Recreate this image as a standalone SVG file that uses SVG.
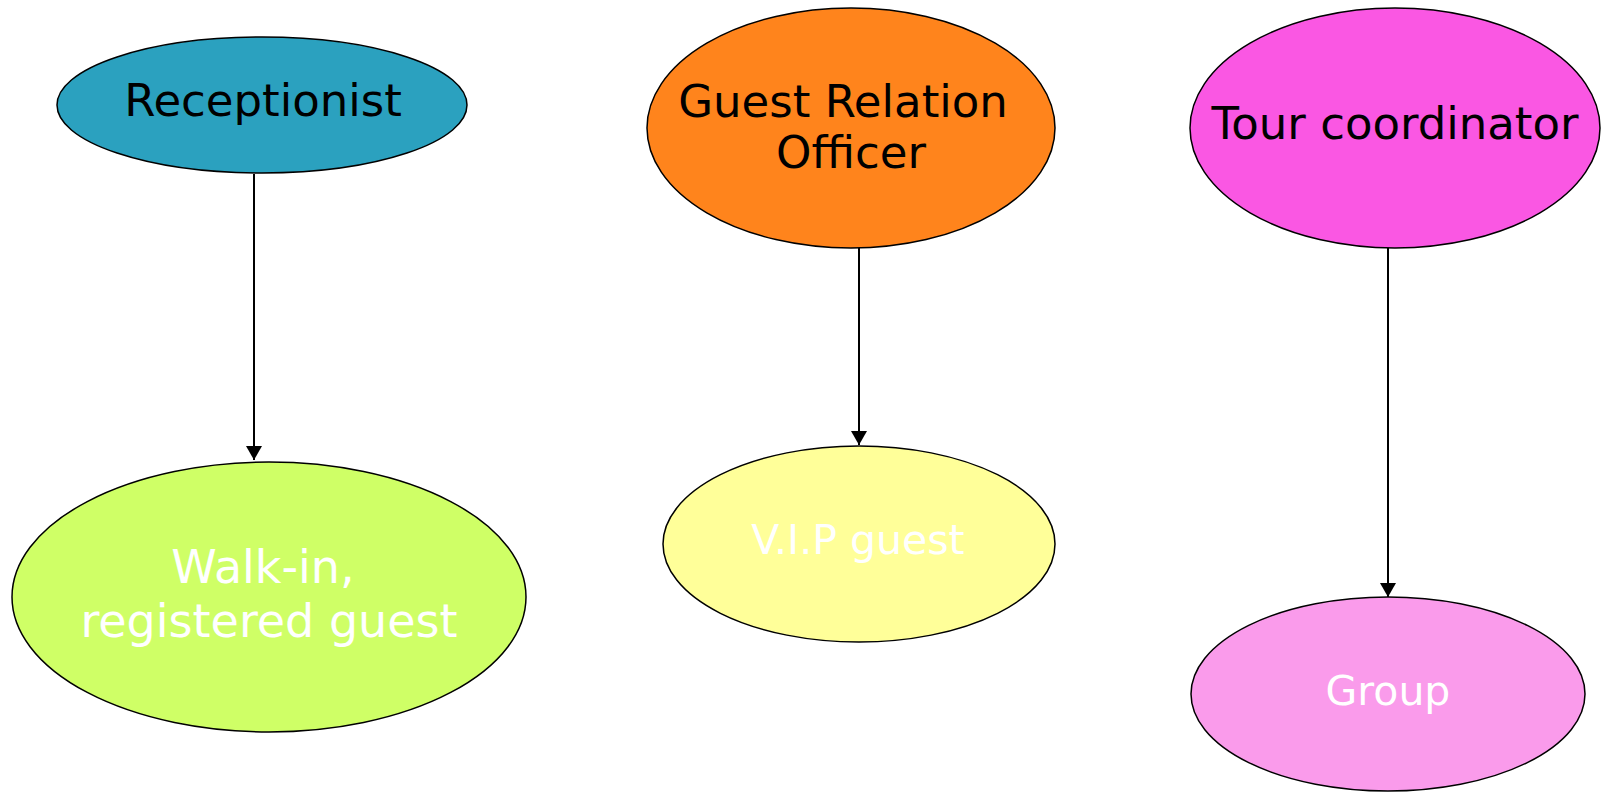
<svg xmlns="http://www.w3.org/2000/svg" width="1601" height="793" viewBox="0 0 1601 793">
<style>
.n{stroke:#000;stroke-width:1.5}
.t{font-family:"DejaVu Sans",sans-serif;text-anchor:middle}
.dark{fill:#000;font-size:45px}
.light{fill:#fff;font-size:41px}
.big{font-size:46px}
.c{stroke:#000;stroke-width:2;fill:none;marker-end:url(#ah)}
</style>
<defs>
<marker id="ah" markerWidth="7" markerHeight="8" refX="7" refY="4" orient="auto" markerUnits="strokeWidth">
<path d="M0,0 L7,4 L0,8 Z" fill="#000"/>
</marker>
</defs>
<rect width="1601" height="793" fill="#fff"/>
<g id="connectors">
<line class="c" x1="254" y1="174" x2="254" y2="460"/>
<line class="c" x1="859" y1="248" x2="859" y2="445"/>
<line class="c" x1="1388" y1="248" x2="1388" y2="597"/>
</g>
<g id="receptionist">
<ellipse class="n" cx="262" cy="105" rx="205" ry="68" fill="#2BA1BF"/>
<text class="t dark" x="263" y="116">Receptionist</text>
</g>
<g id="guest-relation-officer">
<ellipse class="n" cx="851" cy="128" rx="204" ry="120" fill="#FF841C"/>
<text class="t dark" x="843" y="117">Guest Relation</text>
<text class="t dark" x="851" y="168">Officer</text>
</g>
<g id="tour-coordinator">
<ellipse class="n" cx="1395" cy="128" rx="205" ry="120" fill="#FA57E3"/>
<text class="t dark" x="1395" y="139">Tour coordinator</text>
</g>
<g id="walk-in">
<ellipse class="n" cx="269" cy="597" rx="257" ry="135" fill="#CFFF66"/>
<text class="t light big" x="263" y="583">Walk-in,</text>
<text class="t light big" x="269" y="637">registered guest</text>
</g>
<g id="vip-guest">
<ellipse class="n" cx="859" cy="544" rx="196" ry="98" fill="#FFFF99"/>
<text class="t light" x="858" y="554">V.I.P guest</text>
</g>
<g id="group">
<ellipse class="n" cx="1388" cy="694" rx="197" ry="97" fill="#FA9BEB"/>
<text class="t light" x="1388" y="705">Group</text>
</g>
</svg>
